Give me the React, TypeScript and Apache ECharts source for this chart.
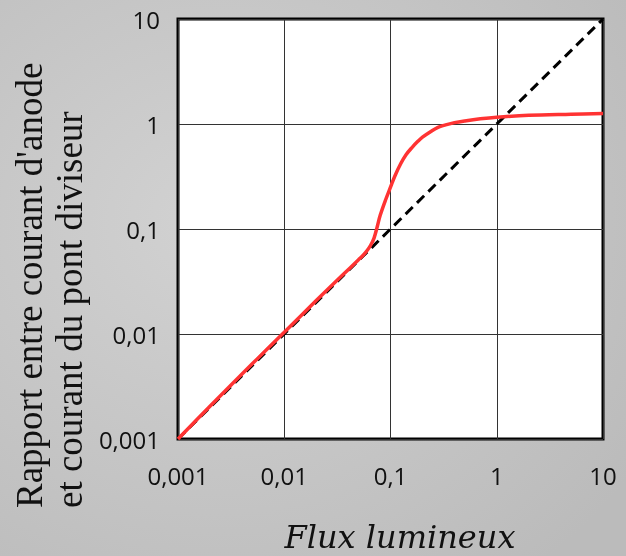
import React, { useEffect, useRef } from "react";
import * as echarts from "echarts";

const tickLabels = ["0,001", "0,01", "0,1", "1", "10"];
const fluxValues = [0.001, 0.002, 0.005, 0.01, 0.02, 0.035, 0.05, 0.055, 0.06, 0.065, 0.07, 0.075, 0.08, 0.09, 0.1, 0.11, 0.125, 0.14, 0.16, 0.18, 0.2, 0.24, 0.28, 0.33, 0.4, 0.5, 0.7, 1, 2, 5, 10];
const ratioValues = [0.001, 0.00205, 0.0052, 0.0104, 0.0208, 0.036, 0.051, 0.056, 0.062, 0.07, 0.082, 0.105, 0.135, 0.19, 0.25, 0.32, 0.42, 0.51, 0.6, 0.68, 0.75, 0.85, 0.93, 0.98, 1.03, 1.07, 1.12, 1.16, 1.21, 1.24, 1.26];
const idealX = [0.001, 10];
const idealY = [0.001, 10];

const yTitle = "Rapport entre courant d'anode\net courant du pont diviseur";
const xTitle = "Flux lumineux";

function fmt(v: number): string {
  const i = Math.round(Math.log10(v)) + 3;
  return tickLabels[i] ?? String(v).replace(".", ",");
}

export default function App() {
  const ref = useRef<HTMLDivElement>(null);
  useEffect(() => {
    if (!ref.current) return;
    const chart = echarts.init(ref.current, null, { renderer: "svg" });
    const tickFont = { color: "#111", fontSize: 24, fontFamily: "'Open Sans', 'Noto Sans', sans-serif" };
    chart.setOption({
      animation: false,
      backgroundColor: {
        type: "radial",
        x: 0.35,
        y: 0.4,
        r: 0.8,
        colorStops: [
          { offset: 0, color: "#d2d2d2" },
          { offset: 1, color: "#bbbbbb" },
        ],
      },
      grid: {
        left: 178,
        top: 19,
        width: 425,
        height: 420,
        show: true,
        backgroundColor: "#ffffff",
        borderColor: "#000",
        borderWidth: 3,
      },
      xAxis: {
        type: "log",
        logBase: 10,
        min: 0.001,
        max: 10,
        axisLine: { show: false },
        axisTick: { show: false },
        splitLine: { show: true, lineStyle: { color: "#333", width: 1 } },
        axisLabel: { ...tickFont, margin: 24, formatter: fmt },
      },
      yAxis: {
        type: "log",
        logBase: 10,
        min: 0.001,
        max: 10,
        axisLine: { show: false },
        axisTick: { show: false },
        splitLine: { show: true, lineStyle: { color: "#333", width: 1 } },
        axisLabel: { ...tickFont, margin: 18, formatter: fmt },
      },
      series: [
        {
          type: "line",
          data: idealX.map((x, i) => [x, idealY[i]]),
          showSymbol: false,
          lineStyle: { color: "#000", width: 3, type: [10, 6] },
          z: 2,
        },
        {
          type: "line",
          data: fluxValues.map((x, i) => [x, ratioValues[i]]),
          showSymbol: false,
          smooth: 0.35,
          lineStyle: { color: "#ff3333", width: 3.5 },
          z: 3,
        },
      ],
      graphic: [
        {
          type: "text",
          x: 9,
          y: 508,
          rotation: Math.PI / 2,
          style: {
            text: yTitle,
            font: "37px 'Liberation Serif', serif",
            fill: "#111",
            align: "left",
            verticalAlign: "top",
            lineHeight: 40,
          },
        },
        {
          type: "text",
          x: 400,
          y: 537,
          style: {
            text: xTitle,
            font: "italic 32px 'DejaVu Serif', serif",
            fill: "#111",
            align: "center",
            verticalAlign: "middle",
          },
        },
      ],
    });
    return () => chart.dispose();
  }, []);
  return <div ref={ref} style={{ position: "fixed", left: 0, top: 0, width: 626, height: 556 }} />;
}
